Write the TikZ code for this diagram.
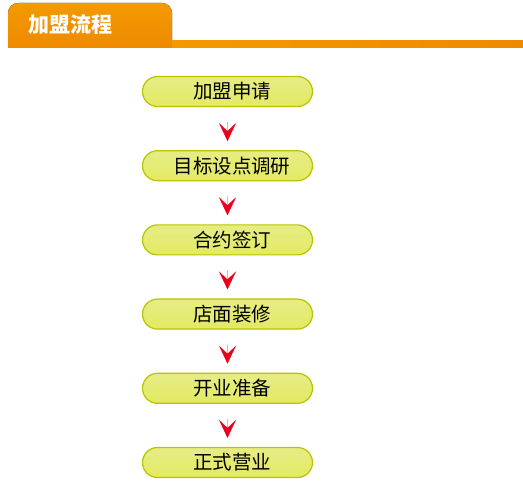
\documentclass[tikz,border=0pt]{standalone}
\usepackage{fontspec}
\setmainfont{Noto Sans CJK SC}
\usepackage{tikz}
\usetikzlibrary{arrows.meta,positioning,shapes.misc}
\definecolor{tab}{HTML}{F39A00}
\definecolor{tabdark}{HTML}{EE8A00}
\definecolor{pillrim}{HTML}{B8C400}
\definecolor{pilltop}{HTML}{E6EC86}
\definecolor{pillmid}{HTML}{C9D422}
\definecolor{pillbot}{HTML}{E4EA62}
\definecolor{chevron}{HTML}{E8001C}

\begin{document}
\begin{tikzpicture}[x=1pt,y=-1pt,% styles for all steps
			every node/.style={
				align=center,
				font=\fontsize{19.5}{21}\selectfont
			},
			pill/.style={rounded rectangle,draw=pillrim,line width=1.2pt,
				top color=pilltop,middle color=pillmid,bottom color=pillbot,
				minimum width=170pt,minimum height=30pt,inner sep=0pt,
				execute at begin node=\hspace*{9pt}},
			node distance=43pt,
			every edge/.style={draw=chevron,line width=0.4pt,
				-{Stealth[length=18pt,width=17pt,inset=8pt]},shorten <=15pt,shorten >=9pt}
		]
		\useasboundingbox (0,0) rectangle (523,481);
		% header tab and bar
		\fill[top color=tab,bottom color=tabdark,rounded corners=10pt] (8,48) -- (8,3) -- (172,3) [sharp corners] -- (172,48) -- cycle;
		\fill[left color=tab,right color=tabdark] (172,41) rectangle (523,48);
		\node[text=white,font=\fontsize{21}{23}\bfseries\selectfont,anchor=west](T) at (25,24){加盟流程};
		% steps
		\node[pill](S1) at (227.5,91.5){加盟申请};
		\node[pill](S2)[below= of S1]{目标设点调研};
		\node[pill](S3)[below= of S2]{合约签订};
		\node[pill](S4)[below= of S3]{店面装修};
		\node[pill](S5)[below= of S4]{开业准备};
		\node[pill](S6)[below= of S5]{正式营业};
		\path
		(S1)edge (S2)
		(S2)edge (S3)
		(S3)edge (S4)
		(S4)edge (S5)
		(S5)edge (S6)
		;
	\end{tikzpicture}
\end{document}
